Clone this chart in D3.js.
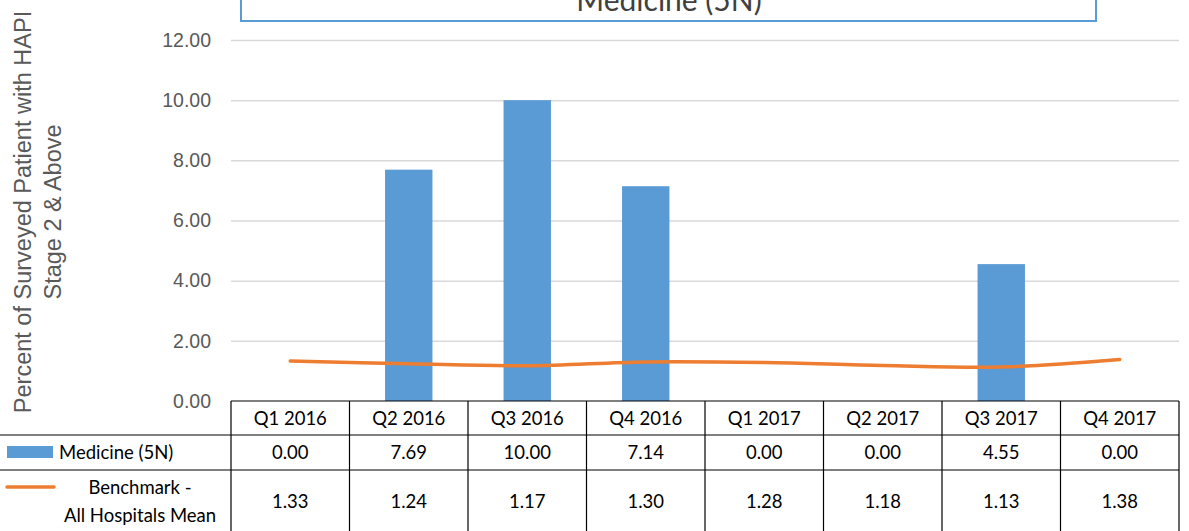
<!DOCTYPE html>
<html>
<head>
<meta charset="utf-8">
<script src="https://cdn.jsdelivr.net/npm/d3@7"></script>
<style>
  html, body { margin: 0; padding: 0; background: #fff; overflow: hidden; }
  svg { display: block; }
</style>
</head>
<body>
<div id="chart"></div>
<script>
const quarters = ['Q1 2016', 'Q2 2016', 'Q3 2016', 'Q4 2016', 'Q1 2017', 'Q2 2017', 'Q3 2017', 'Q4 2017'];
const medicine = [0.00, 7.69, 10.00, 7.14, 0.00, 0.00, 4.55, 0.00];
const benchmark = [1.33, 1.24, 1.17, 1.30, 1.28, 1.18, 1.13, 1.38];
const yTicks = [0, 2, 4, 6, 8, 10, 12];
const seriesNames = ['Medicine (5N)', 'Benchmark -', 'All Hospitals Mean'];
const chartTitle = 'Medicine (5N)';
const yTitle = ['Percent of Surveyed Patient with HAPI', 'Stage 2 & Above'];

const W = 1189, H = 531;
const plot = { left: 231, right: 1179, top: 40, bottom: 401 };

const svg = d3.select('#chart').append('svg')
    .attr('width', W)
    .attr('height', H);

const x = d3.scaleBand()
    .domain(quarters)
    .range([plot.left, plot.right])
    .paddingInner(0.6)
    .paddingOuter(0.3);

const y = d3.scaleLinear()
    .domain([0, 12])
    .range([plot.bottom, plot.top]);

const colCenter = q => x(q) + x.bandwidth() / 2;
const step = x.step();

// gridlines
svg.append('g')
    .attr('transform', `translate(${plot.left},0)`)
    .call(d3.axisLeft(y).tickValues(yTicks.filter(t => t > 0)).tickSize(-(plot.right - plot.left)).tickFormat(''))
    .call(g => g.select('.domain').remove())
    .call(g => g.selectAll('line').attr('stroke', '#d9d9d9').attr('stroke-width', 1.5));

// tick labels
svg.append('g')
    .attr('transform', `translate(211,0)`)
    .call(d3.axisLeft(y).tickValues(yTicks).tickSize(0).tickPadding(0).tickFormat(d3.format('.2f')))
    .call(g => g.select('.domain').remove())
    .call(g => g.selectAll('text')
        .attr('fill', '#595959')
        .style('font-family', '"Liberation Sans", Arial, sans-serif')
        .style('font-size', '19.5px'));

// y title
const yt = svg.append('text')
    .attr('transform', 'translate(0,212) rotate(-90)')
    .attr('text-anchor', 'middle')
    .attr('fill', '#595959')
    .style('font-family', '"Liberation Sans", Arial, sans-serif')
    .style('font-size', '23.5px');
yt.append('tspan').attr('x', 0).attr('y', 31).text(yTitle[0]);
yt.append('tspan').attr('x', 0).attr('y', 61).text(yTitle[1]);

// bars
svg.append('g')
    .selectAll('rect')
    .data(quarters)
    .enter().append('rect')
    .attr('x', d => x(d))
    .attr('width', x.bandwidth())
    .attr('y', (d, i) => y(medicine[i]))
    .attr('height', (d, i) => y(0) - y(medicine[i]))
    .attr('fill', '#5b9bd5');

// benchmark line
const line = d3.line()
    .x((d, i) => colCenter(quarters[i]))
    .y(d => y(d))
    .curve(d3.curveCatmullRom.alpha(0.5));

svg.append('path')
    .datum(benchmark)
    .attr('d', line)
    .attr('fill', 'none')
    .attr('stroke', '#ed7d31')
    .attr('stroke-width', 3.5)
    .attr('stroke-linecap', 'round');

// title box (clipped at the top)
svg.append('rect')
    .attr('x', 241)
    .attr('y', -20)
    .attr('width', 855)
    .attr('height', 41)
    .attr('fill', '#fff')
    .attr('stroke', '#5b9bd5')
    .attr('stroke-width', 2);

svg.append('text')
    .attr('x', 669)
    .attr('y', 11)
    .attr('text-anchor', 'middle')
    .attr('fill', '#404040')
    .style('font-family', 'Lato, "Open Sans", sans-serif')
    .style('font-size', '30px')
    .text(chartTitle);

// data table
const rowY = [401, 435, 470, 540];
const table = svg.append('g')
    .attr('stroke', '#000')
    .attr('stroke-width', 1.2)
    .attr('fill', 'none');

table.append('line')
    .attr('x1', plot.left).attr('x2', plot.right)
    .attr('y1', rowY[0]).attr('y2', rowY[0]);
[rowY[1], rowY[2]].forEach(yy => {
    table.append('line')
        .attr('x1', 0).attr('x2', plot.right)
        .attr('y1', yy).attr('y2', yy);
});
quarters.forEach(q => {
    table.append('line')
        .attr('x1', x(q) - step * 0.3).attr('x2', x(q) - step * 0.3)
        .attr('y1', rowY[0]).attr('y2', H);
});
table.append('line')
    .attr('x1', plot.right).attr('x2', plot.right)
    .attr('y1', rowY[0]).attr('y2', H);

const cellFont = g => g
    .style('font-family', 'Lato, Calibri, sans-serif')
    .style('font-size', '18.5px')
    .attr('fill', '#000');

const fmt = d3.format('.2f');

svg.append('g').call(cellFont)
    .selectAll('text')
    .data(quarters)
    .enter().append('text')
    .attr('x', d => colCenter(d))
    .attr('y', 425)
    .attr('text-anchor', 'middle')
    .text(d => d);

svg.append('g').call(cellFont)
    .selectAll('text')
    .data(medicine)
    .enter().append('text')
    .attr('x', (d, i) => colCenter(quarters[i]))
    .attr('y', 459)
    .attr('text-anchor', 'middle')
    .text(d => fmt(d));

svg.append('g').call(cellFont)
    .selectAll('text')
    .data(benchmark)
    .enter().append('text')
    .attr('x', (d, i) => colCenter(quarters[i]))
    .attr('y', 508)
    .attr('text-anchor', 'middle')
    .text(d => fmt(d));

// legend keys in the table
svg.append('rect')
    .attr('x', 7).attr('y', 446)
    .attr('width', 46).attr('height', 12)
    .attr('fill', '#5b9bd5');
svg.append('text').call(cellFont)
    .attr('x', 59).attr('y', 459)
    .text(seriesNames[0]);

svg.append('line')
    .attr('x1', 7).attr('x2', 54)
    .attr('y1', 487).attr('y2', 487)
    .attr('stroke', '#ed7d31')
    .attr('stroke-width', 3.5)
    .attr('stroke-linecap', 'round');
svg.append('text').call(cellFont)
    .attr('x', 140).attr('y', 494)
    .attr('text-anchor', 'middle')
    .text(seriesNames[1]);
svg.append('text').call(cellFont)
    .attr('x', 140).attr('y', 522)
    .attr('text-anchor', 'middle')
    .text(seriesNames[2]);
</script>
</body>
</html>
